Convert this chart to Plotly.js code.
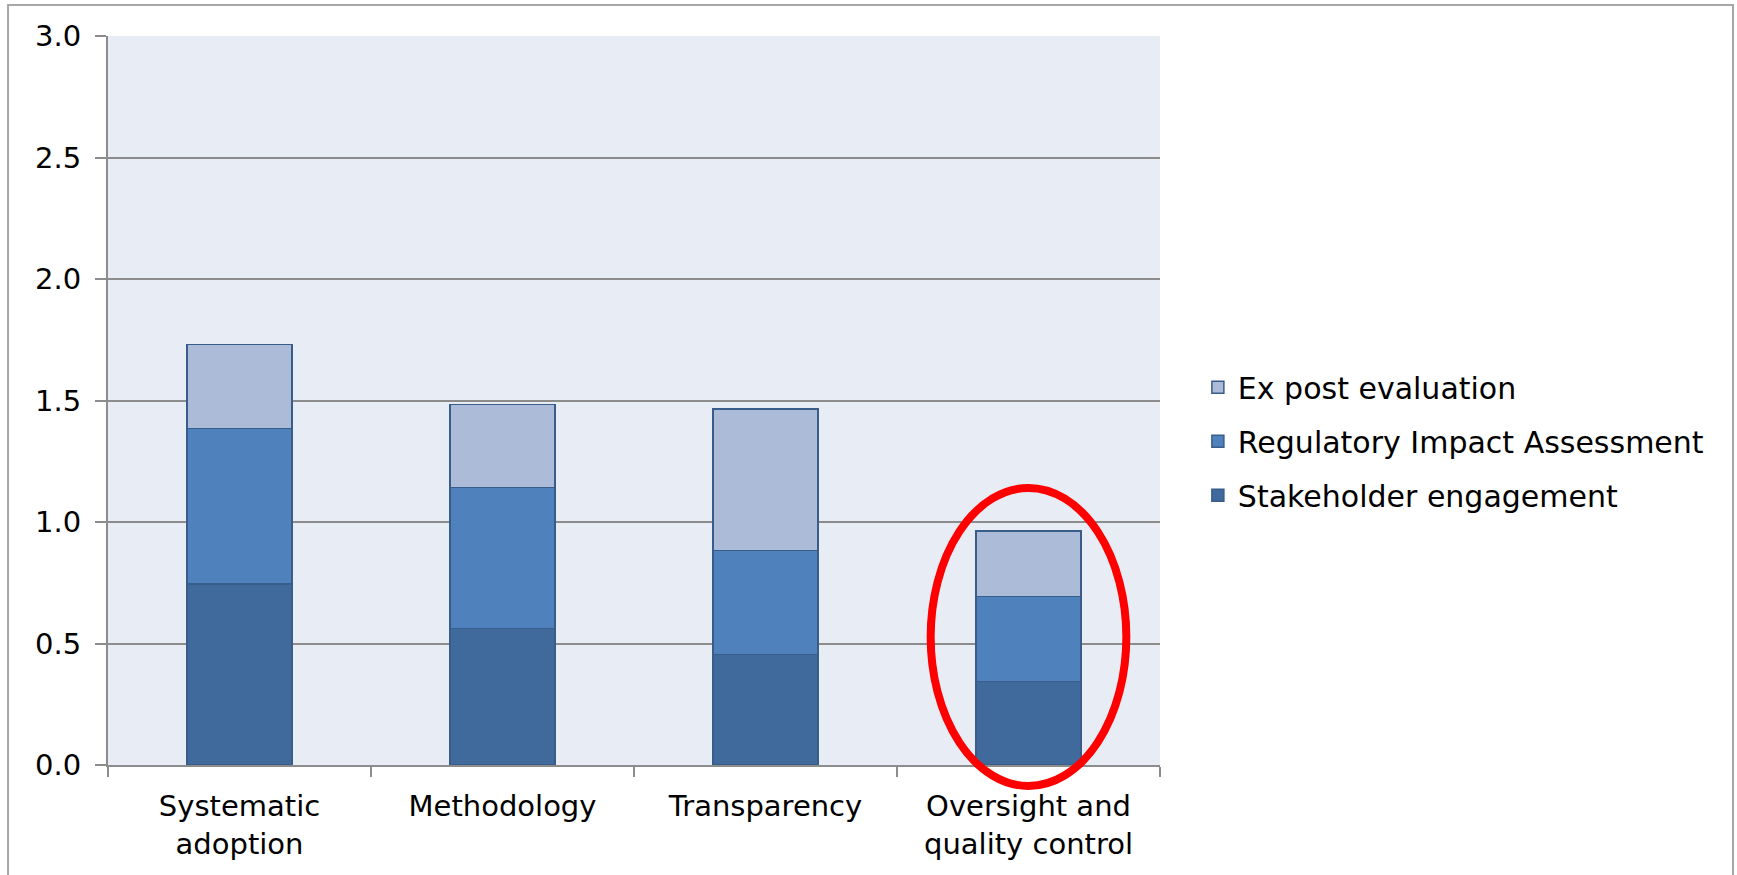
<!DOCTYPE html>
<html>
<head>
<meta charset="utf-8">
<script src="https://cdn.plot.ly/plotly-3.0.1.min.js"></script>
<style>
  html, body { margin: 0; padding: 0; background: #ffffff; }
  #chart { width: 1737px; height: 875px; }
</style>
</head>
<body>
<div id="chart"></div>
<script>
// Categories (x axis)
const categories = [
  "Systematic<br>adoption",
  "Methodology",
  "Transparency",
  "Oversight and<br>quality control"
];

// Series values (stacked, bottom to top)
const stakeholderEngagement = [0.744, 0.561, 0.454, 0.343];
const regulatoryImpactAssessment = [0.641, 0.582, 0.428, 0.350];
const exPostEvaluation = [0.346, 0.341, 0.584, 0.270];

// Series names
const seriesNames = ["Stakeholder engagement", "Regulatory Impact Assessment", "Ex post evaluation"];

// Y tick values / labels
const yTickValues = [0, 0.5, 1.0, 1.5, 2.0, 2.5, 3.0];
const yTickLabels = ["0.0", "0.5", "1.0", "1.5", "2.0", "2.5", "3.0"];

const FONT = "DejaVu Sans, Verdana, sans-serif";
const outline = {color: "#385d8a", width: 1.5};

const traces = [
  {type: "bar", name: seriesNames[0], x: categories, y: stakeholderEngagement,
   marker: {color: "#406a9b", line: outline}, legendgroup: "g1", legendrank: 3},
  {type: "bar", name: seriesNames[1], x: categories, y: regulatoryImpactAssessment,
   marker: {color: "#4f81bd", line: outline}, legendgroup: "g2", legendrank: 2},
  {type: "bar", name: seriesNames[2], x: categories, y: exPostEvaluation,
   marker: {color: "#acbbd8", line: outline}, legendgroup: "g3", legendrank: 1}
];

const layout = {
  width: 1737,
  height: 875,
  margin: {l: 108, r: 577, t: 36, b: 110, pad: 0},
  paper_bgcolor: "#ffffff",
  plot_bgcolor: "#e8ecf4",
  barmode: "stack",
  bargap: 0.6,
  font: {family: FONT, size: 28, color: "#000000"},
  showlegend: true,
  legend: {
    x: 1.036, xanchor: "left",
    y: 0.444, yanchor: "middle",
    traceorder: "grouped",
    tracegroupgap: 12,
    font: {family: FONT, size: 30, color: "#000000"},
    bgcolor: "rgba(0,0,0,0)",
    borderwidth: 0
  },
  xaxis: {
    type: "category",
    showgrid: false,
    showline: true,
    linecolor: "#8c8c8c",
    linewidth: 2,
    ticks: "outside",
    tickson: "boundaries",
    ticklen: 10,
    tickwidth: 1.5,
    tickcolor: "#8c8c8c",
    tickfont: {family: FONT, size: 29, color: "#000000"},
    ticklabelstandoff: 14,
    zeroline: false
  },
  yaxis: {
    range: [0, 3],
    tickmode: "array",
    tickvals: yTickValues,
    ticktext: yTickLabels,
    showgrid: true,
    gridcolor: "#8c8c8c",
    gridwidth: 2,
    showline: true,
    linecolor: "#8c8c8c",
    linewidth: 2,
    ticks: "outside",
    ticklen: 11,
    tickwidth: 2,
    tickcolor: "#8c8c8c",
    tickfont: {family: FONT, size: 29, color: "#000000"},
    ticklabelstandoff: 8,
    zeroline: false
  },
  shapes: [
    // outer chart border
    {type: "rect", xref: "paper", yref: "paper",
     x0: -0.095, x1: 1.5447, y0: -0.17, y1: 1.0425,
     line: {color: "#a6a6a6", width: 2}, fillcolor: "rgba(0,0,0,0)", layer: "below"},
    // red highlight ellipse
    {type: "circle", xref: "x domain", yref: "y domain",
     x0: 0.782, x1: 0.968, y0: -0.0288, y1: 0.380,
     line: {color: "#ff0000", width: 8}, fillcolor: "rgba(0,0,0,0)", layer: "above"}
  ]
};

Plotly.newPlot("chart", traces, layout, {displayModeBar: false, staticPlot: true});
</script>
</body>
</html>
